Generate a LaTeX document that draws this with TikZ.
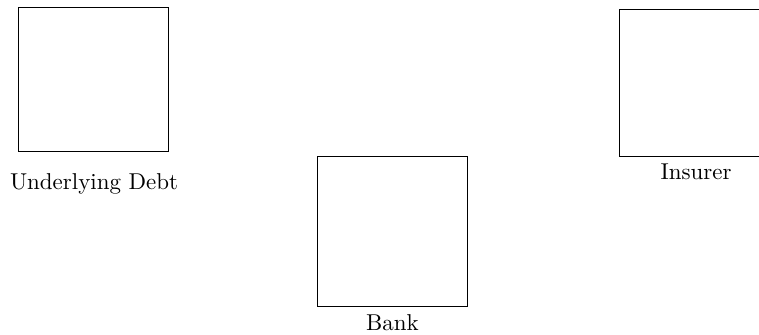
\documentclass[tikz,border=0pt]{standalone}
\tikzset{box/.style={draw, black, inner sep=0pt, minimum width=2.3cm}}
\begin{document}
\begin{tikzpicture}

\useasboundingbox (0,0) rectangle (11.635,5.135);

\coordinate (c1) at (1.426,3.917) ;\coordinate (c2) at (6.017,1.587) ;\coordinate (c3) at (10.65,3.86);
\node [box, minimum height=2.22cm] (debt) at (c1) {};
\node [box, minimum height=2.3cm] (bank) at (c2) {};
\node [box, minimum height=2.25cm] (insurer) at (c3) {};

\node [anchor=base] (debtlabel) at (1.441,2.236) {Underlying Debt};
\node [anchor=base] (banklabel) at (6.017,0.066) {Bank};
\node [anchor=base] (insurerlabel) at (10.67,2.376) {Insurer};

\end{tikzpicture}
\end{document}
